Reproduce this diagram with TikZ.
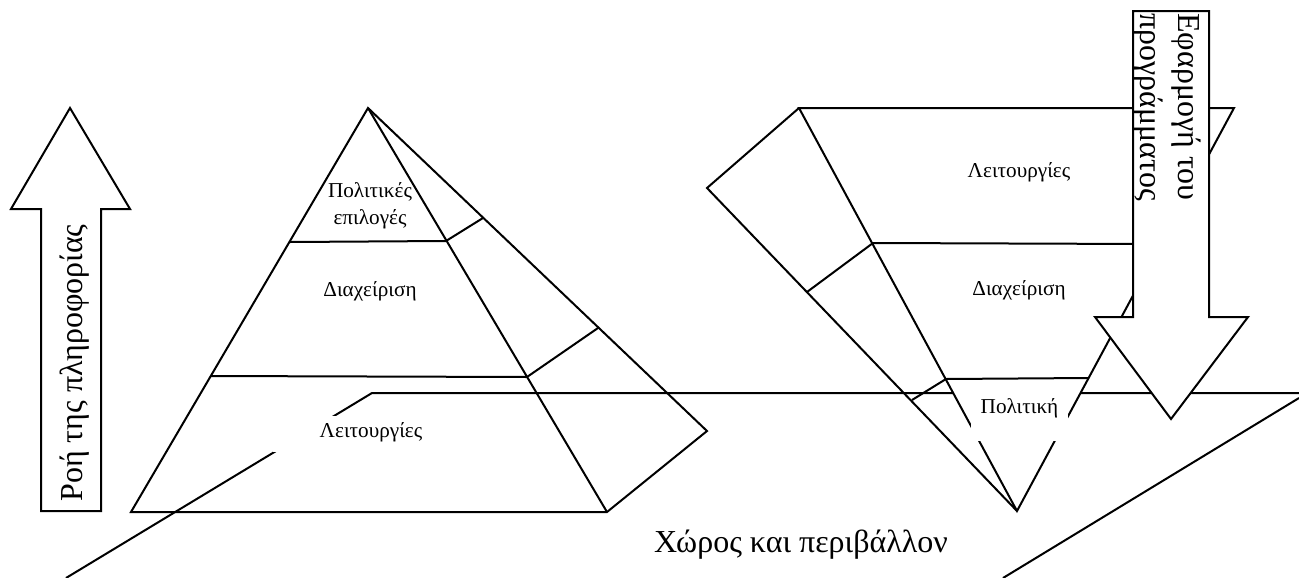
\documentclass[tikz,border=0pt]{standalone}
\usepackage{fontspec}
\setmainfont{Liberation Serif}
\usetikzlibrary{positioning}
\tikzset{
  edge/.style={line width=1.5pt, line join=miter},
  blockarrow/.style={edge, fill=white},
  smalllabel/.style={inner sep=0pt, font=\fontsize{15.9}{20}\selectfont, align=center},
  biglabel/.style={inner sep=0pt, font=\fontsize{24}{28.5}\selectfont, align=left},
  masklabel/.style={smalllabel, fill=white, anchor=base}
}
\begin{document}
\begin{tikzpicture}[x=0.75pt, y=-0.75pt]
  \useasboundingbox (0,0) rectangle (1299,578);
  \clip (0,0) rectangle (1299,578);

  % left pyramid
  \draw[edge] (368,108) -- (131,512) -- (607,512) -- (707,431) -- cycle;
  \draw[edge] (368,108) -- (607,512);
  \draw[edge] (290,242) -- (446,241) -- (483,218);
  \draw[edge] (210,376) -- (527,377) -- (598,328);

  % floor
  \draw[edge] (66,578) -- (372,393) -- (1299,393);
  \draw[edge] (1299,398) -- (1003,578);

  % right pyramid, upside down
  \draw[edge] (799,108) -- (707,188) -- (1017,511);
  \draw[edge, fill=white] (799,108) -- (1234,108) -- (1017,511) -- cycle;
  \draw[edge] (807,292) -- (873,243) -- (1146,244);
  \draw[edge] (912,400) -- (946,379) -- (1089,378);

  % flow arrows
  \draw[blockarrow] (41,511) -- (41,209) -- (11,209) -- (70,108) -- (130,209) -- (101,209) -- (101,511) -- cycle;
  \draw[blockarrow] (1133,11) -- (1133,317) -- (1095,317) -- (1171,419) -- (1248,317) -- (1209,317) -- (1209,11) -- cycle;

  % labels
  \node[smalllabel] (politikes) at (370,206) {Πολιτικές\\επιλογές};
  \node[smalllabel] (diax1) at (370,291) {Διαχείριση};
  \node[masklabel, minimum width=147pt, text height=15.75pt, text depth=11.25pt] (leit1) at (371,437) {Λειτουργίες};
  \node[smalllabel] (leit2) at (1019,172) {Λειτουργίες};
  \node[smalllabel] (diax2) at (1019,290) {Διαχείριση};
  \node[masklabel, minimum width=72.75pt, text height=21pt, text depth=21pt] (politiki) at (1019.5,413) {Πολιτική};

  \node[biglabel, rotate=90, anchor=base west] (roi) at (82,502) {Ροή της πληροφορίας};
  \node[biglabel, rotate=-90, anchor=north west] (efarmogi) at (1201,13) {Εφαρμογή του\\προγράμματος};
  \node[biglabel] (xoros) at (801,545) {Χώρος και περιβάλλον};
\end{tikzpicture}
\end{document}
